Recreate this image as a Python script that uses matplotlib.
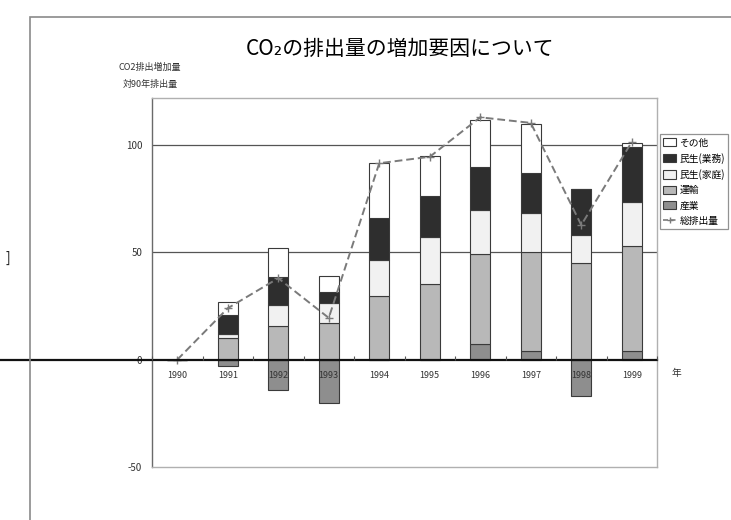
import matplotlib
matplotlib.use('Agg')
import matplotlib.pyplot as plt
import numpy as np
from matplotlib.patches import Rectangle, Patch
from matplotlib.lines import Line2D

plt.rcParams['font.family'] = ['Noto Sans CJK JP', 'DejaVu Sans']

# ---- data ----
years = ['1990', '1991', '1992', '1993', '1994', '1995', '1996', '1997', '1998', '1999']
industry = [0, -3, -14, -20, 0, 0, 7.4, 3.9, -16.7, 3.9]          # 産業
transport = [0, 10, 15.5, 17, 29.8, 35.3, 41.9, 46.5, 45, 49.3]    # 運輸
household = [0, 2, 10, 9.3, 16.7, 21.7, 20.5, 17.9, 13, 20.4]      # 民生(家庭)
commercial = [0, 9, 13.1, 5.3, 19.5, 19.3, 20.2, 18.7, 21.5, 25.6] # 民生(業務)
other = [0, 6, 13.3, 7.5, 25.6, 18.7, 21.6, 23, 0, 1.8]            # その他
total = [0, 24, 38, 19.5, 91.6, 94.6, 113, 110.4, 62.8, 101.5]     # 総排出量

stack_names = ['産業', '運輸', '民生(家庭)', '民生(業務)', 'その他']
stack_values = [industry, transport, household, commercial, other]
stack_colors = ['#8e8e8e', '#b8b8b8', '#f1f1f1', '#2e2e2e', '#ffffff']
line_name = '総排出量'

title = 'CO₂の排出量の増加要因について'
ylabel_lines = ['CO2排出増加量', '対90年排出量']
xunit = '年'

W, H = 731, 520
fig = plt.figure(figsize=(W / 100, H / 100), dpi=100)

# outer chart border
fig.patches.append(Rectangle((30 / W, -0.2), 1.2, 1 - 17 / H + 0.2,
                             transform=fig.transFigure, fill=False,
                             edgecolor='#8a8a8a', linewidth=1.2))

ax = fig.add_axes([152 / W, 1 - 467 / H, 505 / W, 369 / H])
ymin, ymax = -50, 122
ax.set_ylim(ymin, ymax)
ax.set_xlim(-0.5, len(years) - 0.5)

x = np.arange(len(years))
pos = np.zeros(len(years))
neg = np.zeros(len(years))
for vals, c in zip(stack_values, stack_colors):
    v = np.array(vals, float)
    bottom = np.where(v >= 0, pos, neg)
    ax.bar(x, v, 0.4, bottom=bottom, color=c, edgecolor='#3a3a3a',
           linewidth=0.8, zorder=3)
    pos += np.clip(v, 0, None)
    neg += np.clip(v, None, 0)

ax.plot(x, total, color='#7a7a7a', linestyle=(0, (4, 2)), linewidth=1.4,
        marker='+', markersize=6, markeredgewidth=1.0, zorder=4)

# gridlines
for g in (50, 100):
    ax.axhline(g, color='#555555', linewidth=0.9, zorder=1)

# zero line extending to the left edge of the picture
ax.axhline(0, xmin=-152 / 505, xmax=1, color='#111111', linewidth=1.6,
           zorder=5, clip_on=False)

# spines
for s in ('top', 'right', 'bottom'):
    ax.spines[s].set_color('#b0b0b0')
    ax.spines[s].set_linewidth(1.0)
ax.spines['left'].set_color('#6a6a6a')
ax.spines['left'].set_linewidth(1.0)

ax.set_xticks([])
ax.set_yticks([-50, 0, 50, 100])
ax.set_yticklabels(['-50', '0', '50', '100'])
ax.tick_params(axis='y', length=0, pad=7, labelsize=7, labelcolor='#333333')

# category axis at zero (drawn above the bars)
sec = ax.secondary_xaxis((0 - ymin) / (ymax - ymin))
sec.set_zorder(6)
sec.spines['bottom'].set_visible(False)
sec.set_xticks(x)
sec.set_xticklabels(years)
sec.set_xticks(np.arange(len(years) + 1) - 0.5, minor=True)
sec.tick_params(axis='x', which='major', length=0, pad=8, labelsize=6.5,
                labelcolor='#333333')
sec.tick_params(axis='x', which='minor', direction='in', length=3,
                color='#555555', width=0.8)

fig.text(676 / W, 1 - 373 / H, xunit, ha='center', va='center', fontsize=7,
         color='#333333')

fig.text(400 / W, 1 - 49 / H, title, ha='center', va='center', fontsize=15,
         color='#000000')
fig.text(150 / W, 1 - 67 / H, ylabel_lines[0], ha='center', va='center',
         fontsize=6.5, color='#333333')
fig.text(150 / W, 1 - 84 / H, ylabel_lines[1], ha='center', va='center',
         fontsize=6.5, color='#333333')

fig.text(8 / W, 1 - 258 / H, ']', ha='center', va='center', fontsize=10,
         color='#222222')

# legend
handles = [Patch(facecolor=c, edgecolor='#3a3a3a', linewidth=0.8)
           for c in stack_colors[::-1]]
labels = stack_names[::-1]
handles.append(Line2D([], [], color='#7a7a7a', linestyle=(0, (3, 1.5)),
                      linewidth=1.2, marker='+', markersize=5,
                      markeredgewidth=1.0))
labels.append(line_name)
leg = fig.legend(handles, labels, loc='upper left',
                 bbox_to_anchor=(660 / W, 1 - 134 / H), fontsize=7,
                 frameon=True, fancybox=False, edgecolor='#777777',
                 handlelength=1.3, handleheight=0.9, handletextpad=0.35,
                 labelspacing=0.55, borderpad=0.35, borderaxespad=0)
leg.get_frame().set_linewidth(0.9)

fig.savefig('out.png', dpi=100)
